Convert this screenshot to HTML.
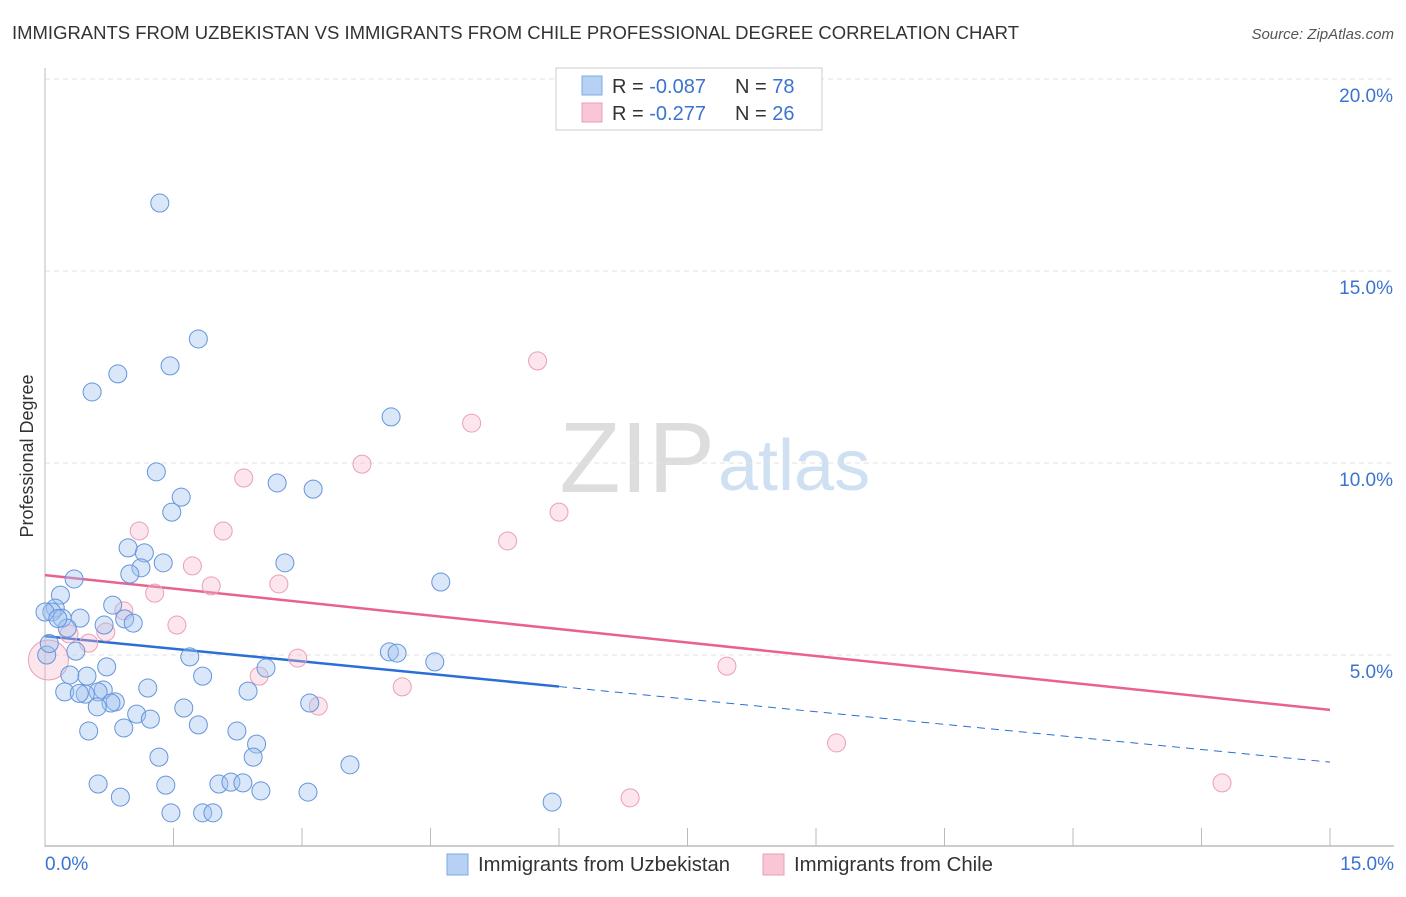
<!DOCTYPE html>
<html><head><meta charset="utf-8"><style>
body{margin:0;background:#fff;font-family:"Liberation Sans",sans-serif;}
svg text{font-family:"Liberation Sans",sans-serif;}
</style></head><body>
<svg id="chart" width="1406" height="892" viewBox="0 0 1406 892" xmlns="http://www.w3.org/2000/svg">
<text x="12" y="39" font-size="18" fill="#333" textLength="1007" lengthAdjust="spacingAndGlyphs">IMMIGRANTS FROM UZBEKISTAN VS IMMIGRANTS FROM CHILE PROFESSIONAL DEGREE CORRELATION CHART</text>
<text x="1394" y="39" font-size="15" fill="#555" text-anchor="end" font-style="italic">Source: ZipAtlas.com</text>
<text x="715" y="492" font-size="100" text-anchor="end" fill="#ddd" font-family="Liberation Serif, serif">ZIP</text>
<text x="718" y="490" font-size="72" fill="#cfe0f3">atlas</text>
<text transform="translate(33,456) rotate(-90)" font-size="18" fill="#333" text-anchor="middle">Professional Degree</text>
<g id="grid"></g>
<g id="axes"></g>
<g id="trend"></g>
<g id="points"></g>
<g>
<rect x="556" y="68" width="266" height="62" fill="#fff" stroke="#ccc"/>
<rect x="582" y="76" width="20" height="19" fill="#b7d1f4" stroke="#7ea9e3"/>
<rect x="582" y="103" width="20" height="19" fill="#f8c6d4" stroke="#ec9db4"/>
<text x="612" y="93" font-size="20" fill="#333">R = <tspan fill="#3a74d0">-0.087</tspan></text>
<text x="735" y="93" font-size="20" fill="#333">N = <tspan fill="#3a74d0">78</tspan></text>
<text x="612" y="120" font-size="20" fill="#333">R = <tspan fill="#3a74d0"> -0.277</tspan></text>
<text x="735" y="120" font-size="20" fill="#333">N = <tspan fill="#3a74d0">26</tspan></text>
</g>
<g>
<rect x="447" y="854" width="21" height="21" fill="#b7d1f4" stroke="#7ea9e3"/>
<text x="478" y="871" font-size="20" fill="#333" textLength="252" lengthAdjust="spacingAndGlyphs">Immigrants from Uzbekistan</text>
<rect x="763" y="854" width="21" height="21" fill="#f8c6d4" stroke="#ec9db4"/>
<text x="794" y="871" font-size="20" fill="#333" textLength="199" lengthAdjust="spacingAndGlyphs">Immigrants from Chile</text>
</g>
</svg>
<script>
const xTicks=[0,1.5,3,4.5,6,7.5,9,10.5,12,13.5,15];
const yTicks=[5,10,15,20];
const yTickLabels=["5.0%","10.0%","15.0%","20.0%"];
const xAxisLabels=["0.0%","15.0%"];
const blueX=[1.34,1.79,1.46,0.85,0.55,4.04,1.30,2.71,3.13,1.59,1.48,0.97,1.16,2.80,1.38,1.12,0.99,0.34,4.62,0.18,0.12,0.08,0.0,0.79,0.41,0.20,0.93,1.03,0.69,0.26,0.36,1.69,4.02,4.11,4.55,0.02,0.72,2.58,0.29,0.49,1.84,1.20,2.37,0.68,0.62,0.47,0.23,0.82,0.77,0.61,1.62,3.09,1.07,1.23,0.92,1.79,2.24,0.51,2.47,1.33,2.43,3.56,0.62,1.41,2.03,2.17,2.31,0.88,2.52,3.07,5.92,1.47,1.84,1.96,0.15,0.05,0.40];
const blueY=[16.77,13.23,12.53,12.32,11.85,11.20,9.77,9.48,9.32,9.11,8.72,7.79,7.66,7.40,7.40,7.27,7.11,6.98,6.90,6.56,6.22,6.12,6.12,6.30,5.96,5.96,5.94,5.83,5.78,5.70,5.10,4.95,5.08,5.05,4.82,5.00,4.69,4.66,4.48,4.45,4.45,4.14,4.06,4.09,4.04,3.98,4.04,3.78,3.75,3.65,3.62,3.75,3.46,3.33,3.10,3.18,3.02,3.02,2.68,2.34,2.34,2.14,1.64,1.61,1.64,1.69,1.67,1.30,1.46,1.43,1.17,0.89,0.89,0.89,5.95,5.30,4.00];
const pinkX=[5.75,4.98,3.70,2.32,6.00,1.10,2.08,5.40,1.72,1.28,1.94,2.73,0.92,1.54,0.28,0.71,0.51,0.04,2.95,2.50,4.17,3.19,7.96,9.24,6.83,13.74];
const pinkY=[12.66,11.04,9.97,9.61,8.72,8.23,8.23,7.97,7.32,6.61,6.80,6.85,6.15,5.78,5.55,5.60,5.31,4.87,4.92,4.45,4.17,3.67,4.71,2.71,1.28,1.67];
const blueTrend=[5.49,2.21];
const pinkTrend=[7.08,3.57];
const blueSolidEnd=6;

const NS="http://www.w3.org/2000/svg";
const X0=45,X1=1330,Y0=847,PXY=38.4;
const sx=v=>X0+v*(X1-X0)/15;
const sy=v=>Y0-v*PXY;
function mk(tag,attrs,parent){const e=document.createElementNS(NS,tag);for(const k in attrs)e.setAttribute(k,attrs[k]);parent.appendChild(e);return e;}
const grid=document.getElementById('grid'),axes=document.getElementById('axes'),trend=document.getElementById('trend'),pts=document.getElementById('points');
yTicks.forEach((t,i)=>{
  const l=mk('line',{x1:45,x2:1394,y1:sy(t),y2:sy(t),stroke:'#e2e2e2','stroke-dasharray':'5,4'},grid);
  
  
  const tx=mk('text',{x:1393,y:sy(t)+23,'font-size':19,fill:'#3a74d0','text-anchor':'end'},axes);
  tx.textContent=yTickLabels[i];
  
  
});
const ya=mk('line',{x1:45,x2:45,y1:68,y2:847,stroke:'#bbb'},axes);


const xa=mk('line',{x1:45,x2:1394,y1:846,y2:846,stroke:'#bbb','stroke-width':1.5},axes);


xTicks.forEach(t=>{
  const l=mk('line',{x1:sx(t),x2:sx(t),y1:828,y2:846,stroke:'#bbb'},axes);
  
  
});
const xl0=mk('text',{x:45,y:870,'font-size':19,fill:'#3a74d0'},axes);xl0.textContent=xAxisLabels[0];


const xl1=mk('text',{x:1394,y:870,'font-size':19,fill:'#3a74d0','text-anchor':'end'},axes);xl1.textContent=xAxisLabels[1];



const bAt=v=>blueTrend[0]+(blueTrend[1]-blueTrend[0])*v/15;
const pl=mk('line',{x1:sx(0),y1:sy(pinkTrend[0]),x2:sx(15),y2:sy(pinkTrend[1]),stroke:'#e8628f','stroke-width':2.5},trend);


const bl=mk('line',{x1:sx(0),y1:sy(bAt(0)),x2:sx(blueSolidEnd),y2:sy(bAt(blueSolidEnd)),stroke:'#2a6ed6','stroke-width':2.5},trend);


const bd=mk('line',{x1:sx(blueSolidEnd),y1:sy(bAt(blueSolidEnd)),x2:sx(15),y2:sy(bAt(15)),stroke:'#2a6ed6','stroke-width':1,'stroke-dasharray':'8,6'},trend);



pinkX.forEach((x,i)=>{
  const c=mk('circle',{cx:sx(x),cy:sy(pinkY[i]),r:(i===17?20:9),fill:'rgba(246,180,200,0.35)',stroke:'#eaa0b6','stroke-width':1},pts);
  
  
});
blueX.forEach((x,i)=>{
  const c=mk('circle',{cx:sx(x),cy:sy(blueY[i]),r:9,fill:'rgba(160,194,240,0.4)',stroke:'#6595dc','stroke-width':1},pts);
  
  
});
</script>
</body></html>
